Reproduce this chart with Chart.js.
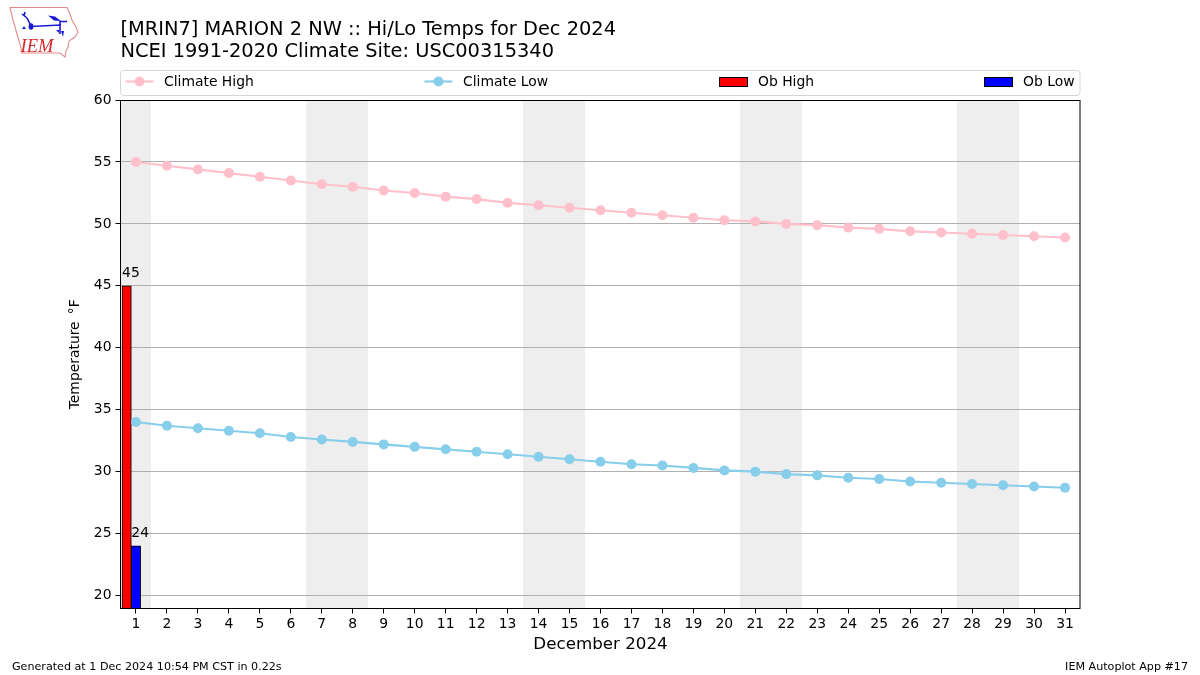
<!DOCTYPE html>
<html>
<head>
<meta charset="utf-8">
<title>Hi/Lo Temps</title>
<script src="https://cdn.jsdelivr.net/npm/chart.js@4/dist/chart.umd.js"></script>
<style>
	html, body { margin: 0; padding: 0; background: #fff; }
	#wrap { position: relative; width: 1200px; height: 675px; }
	#chart { display: block; }
	#logo { position: absolute; left: 0; top: 0; }
</style>
</head>
<body>
<div id="wrap">
	<canvas id="chart" width="1200" height="675"></canvas>
	<!-- IEM logo -->
	<svg id="logo" width="90" height="64" viewBox="0 0 90 64">
		<path d="M10 7.5 L67 7.5 L70 14 L72 20 L76 27 L78 32 L75 37 L69 41 L68 47 L66 51 L65 57 L60 53 L22 53 L20 44 L17 34 L13 20 Z" fill="#fff" stroke="#e58a8a" stroke-width="1.1"/>
		<path d="M31 26.5 L60 25 L60 34 M60 21.5 L67 21.5 M60 21 L60 25 M31 26 L27 18 M27 18 L22 14 M25 12 L24 16" fill="none" stroke="#1a1ad6" stroke-width="1.6"/>
		<path d="M48 15.5 L55 16.5 L61 21 L54 20.5 Z" fill="#1a1ad6"/>
		<ellipse cx="31" cy="26.5" rx="2.4" ry="3.2" fill="#1a1ad6"/>
		<path d="M24 26 L26 29 L22 29 Z M56 30 L59 30 L59 33 Z M61 31 L64 31 L63 37 Z" fill="#1a1ad6"/>
		<text x="20.5" y="52" font-family="Liberation Serif" font-style="italic" font-size="18.5" fill="#d42a2a">IEM</text>
	</svg>
</div>
<script>
// Chart values
const days = [1,2,3,4,5,6,7,8,9,10,11,12,13,14,15,16,17,18,19,20,21,22,23,24,25,26,27,28,29,30,31]
const climateHigh = [55,54.7,54.4,54.1,53.8,53.5,53.2,53,52.7,52.5,52.2,52,51.7,51.5,51.3,51.1,50.9,50.7,50.5,50.3,50.2,50,49.9,49.7,49.6,49.4,49.3,49.2,49.1,49,48.9]
const climateLow = [34,33.7,33.5,33.3,33.1,32.8,32.6,32.4,32.2,32,31.8,31.6,31.4,31.2,31,30.8,30.6,30.5,30.3,30.1,30,29.8,29.7,29.5,29.4,29.2,29.1,29,28.9,28.8,28.7]
const obHigh = [45]
const obLow = [24]
const yTicks = [20,25,30,35,40,45,50,55,60]
const weekendDays = [1,7,8,14,15,21,22,28,29]

const titleLines = ['[MRIN7] MARION 2 NW :: Hi/Lo Temps for Dec 2024', 'NCEI 1991-2020 Climate Site: USC00315340']
const xTitle = 'December 2024'
const yTitle = 'Temperature \u2009\u00B0F'
const footLeft = 'Generated at 1 Dec 2024 10:54 PM CST in 0.22s'
const footRight = 'IEM Autoplot App #17'

const FONT = '"DejaVu Sans"'
const BAR_W = 9.3

// Weekend shading goes under the grid
const weekendBands = {
	id: 'weekendBands',
	beforeDraw(chart) {
		const { ctx, chartArea, scales } = chart
		ctx.save()
		ctx.fillStyle = '#eeeeee'
		for (const d of weekendDays) {
			const x0 = Math.round(Math.max(scales.x.getPixelForValue(d - 0.5), chartArea.left))
			const x1 = Math.round(Math.min(scales.x.getPixelForValue(d + 0.5), chartArea.right))
			ctx.fillRect(x0, chartArea.top, x1 - x0, chartArea.bottom - chartArea.top)
		}
		ctx.restore()
	}
}

// Labels over the bars, the axes frame, legend box and footer
const extras = {
	id: 'extras',
	afterDatasetsDraw(chart) {
		const { ctx, chartArea, scales } = chart
		ctx.save()
		ctx.strokeStyle = '#000'
		ctx.lineWidth = 1
		ctx.strokeRect(120.5, 100.5, 959.5, 508)

		// bar value labels
		ctx.font = '13.9px ' + FONT
		ctx.textBaseline = 'alphabetic'
		ctx.textAlign = 'left'
		ctx.fillStyle = '#000'
		chart.data.datasets.forEach((ds) => {
			if (ds.type !== 'bar') return
			ds.data.forEach((pt) => {
				const px = scales.x.getPixelForValue(pt.x) - BAR_W / 2
				ctx.fillText(String(pt.y), px, scales.y.getPixelForValue(pt.y) - 9)
			})
		})

		// legend
		ctx.beginPath()
		ctx.roundRect(120.5, 70.5, 959.5, 25, 3)
		ctx.fillStyle = '#fff'
		ctx.fill()
		ctx.strokeStyle = '#d6d6d6'
		ctx.stroke()
		const slots = [125.5, 424.5, 719, 984]
		const yMid = 81.5
		chart.data.datasets.forEach((ds, i) => {
			const x = slots[i]
			let textX = x + 39
			if (ds.type === 'line') {
				ctx.strokeStyle = ds.borderColor
				ctx.lineWidth = 2.1
				ctx.beginPath()
				ctx.moveTo(x, yMid)
				ctx.lineTo(x + 28, yMid)
				ctx.stroke()
				ctx.fillStyle = ds.borderColor
				ctx.beginPath()
				ctx.arc(x + 14, yMid, 5, 0, Math.PI * 2)
				ctx.fill()
				textX = x + 38.5
			} else {
				ctx.fillStyle = ds.backgroundColor
				ctx.fillRect(x + 0.5, 77.5, 28, 9)
				ctx.strokeStyle = '#000'
				ctx.lineWidth = 1
				ctx.strokeRect(x + 0.5, 77.5, 28, 9)
			}
			ctx.fillStyle = '#000'
			ctx.font = '13.9px ' + FONT
			ctx.textAlign = 'left'
			ctx.fillText(ds.label, textX, 86)
		})

		// footer
		ctx.font = '11.13px ' + FONT
		ctx.fillStyle = '#000'
		ctx.textAlign = 'left'
		ctx.fillText(footLeft, 12, 670)
		ctx.textAlign = 'right'
		ctx.fillText(footRight, 1188, 670)
		ctx.restore()
	}
}

new Chart(document.getElementById('chart'), {
	data: {
		datasets: [
			{
				type: 'line', label: 'Climate High', order: 1,
				data: days.map((d, i) => ({ x: d, y: climateHigh[i] })),
				borderColor: '#ffc0cb', backgroundColor: '#ffc0cb', borderWidth: 2.1,
				pointRadius: 5, pointBorderWidth: 0, tension: 0
			},
			{
				type: 'line', label: 'Climate Low', order: 1,
				data: days.map((d, i) => ({ x: d, y: climateLow[i] })),
				borderColor: '#87ceeb', backgroundColor: '#87ceeb', borderWidth: 2.1,
				pointRadius: 5, pointBorderWidth: 0, tension: 0
			},
			{
				type: 'bar', label: 'Ob High', order: 2,
				data: obHigh.map((v, i) => ({ x: days[i] - 0.3, y: v })),
				backgroundColor: '#ff0000', borderColor: '#000', borderWidth: 1,
				barThickness: BAR_W, grouped: false
			},
			{
				type: 'bar', label: 'Ob Low', order: 2,
				data: obLow.map((v, i) => ({ x: days[i], y: v })),
				backgroundColor: '#0000ff', borderColor: '#000', borderWidth: 1,
				barThickness: BAR_W, grouped: false
			}
		]
	},
	options: {
		responsive: false,
		animation: false,
		events: [],
		layout: { padding: { left: 0, right: 119.5, top: 0, bottom: 0 } },
		plugins: {
			legend: { display: false },
			tooltip: { enabled: false },
			title: {
				display: true, text: titleLines, align: 'start', color: '#000', fullSize: false,
				font: { family: FONT, size: 19.4, weight: 'normal', lineHeight: 1.14 },
				padding: { top: 19, bottom: 36.8 }
			}
		},
		scales: {
			x: {
				type: 'linear', min: 0.5, max: 31.5, offset: false,
				afterBuildTicks: (s) => { s.ticks = days.map((d) => ({ value: d })) },
				afterFit: (s) => { s.height = 66.5 },
				grid: { offset: false, drawOnChartArea: false, drawTicks: true, tickLength: 5, tickColor: '#000', tickWidth: 1 },
				border: { display: false },
				ticks: { color: '#000', font: { family: FONT, size: 13.9 }, maxRotation: 0, autoSkip: false, padding: 3, callback: (v) => String(v) },
				title: { display: true, text: xTitle, color: '#000', font: { family: FONT, size: 16.7 }, padding: { top: 5, bottom: 20 } }
			},
			y: {
				min: 18.95, max: 60,
				afterBuildTicks: (s) => { s.ticks = yTicks.map((v) => ({ value: v })) },
				afterFit: (s) => { s.width = 120.5 },
				grid: { color: '#b0b0b0', lineWidth: 1, drawTicks: true, tickLength: 5, tickColor: '#000' },
				border: { display: false },
				ticks: { color: '#000', font: { family: FONT, size: 13.9 }, padding: 4, callback: (v) => String(v) },
				title: { display: true, text: yTitle, color: '#000', font: { family: FONT, size: 13.9 }, padding: { top: 67, bottom: 0 } }
			}
		}
	},
	plugins: [weekendBands, extras]
})
</script>
</body>
</html>
